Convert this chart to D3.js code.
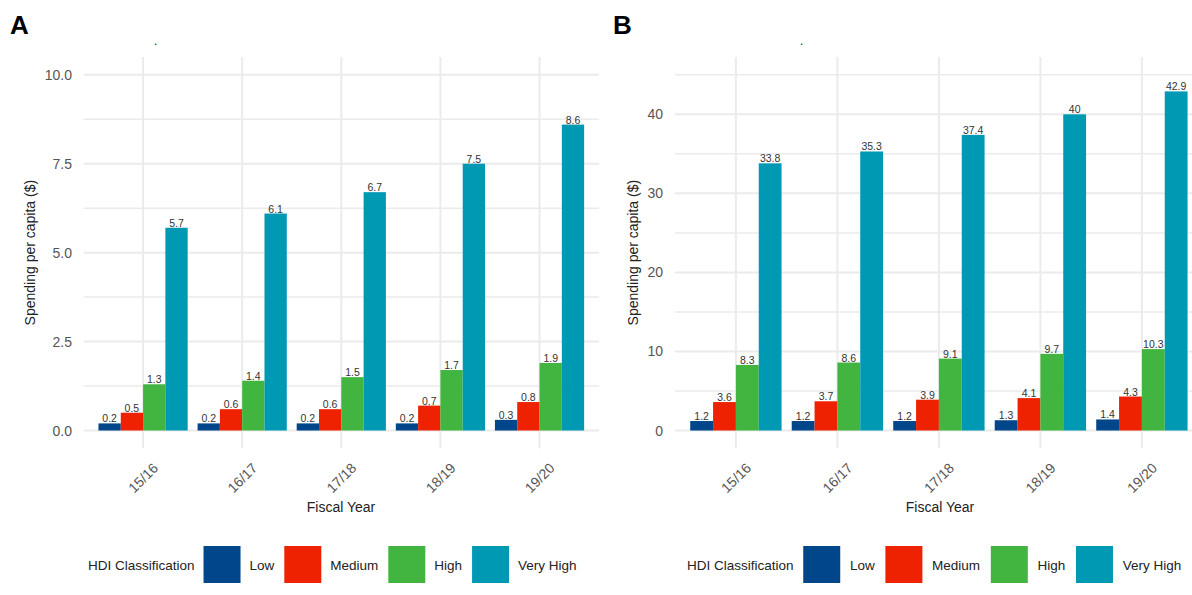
<!DOCTYPE html>
<html>
<head>
<meta charset="utf-8">
<script src="https://cdn.jsdelivr.net/npm/d3@7"></script>
<style>
  html, body { margin: 0; padding: 0; background: #fff; }
  svg { display: block; font-family: "Liberation Sans", Arial, sans-serif; }
</style>
</head>
<body>
<svg id="chart" width="1192" height="595"></svg>
<script>
// ---------- data ----------
const years = ["15/16", "16/17", "17/18", "18/19", "19/20"];
const classes = ["Low", "Medium", "High", "Very High"];
const classColors = ["#00468B", "#EE2200", "#42B540", "#0099B4"];

// Panel A: spending per capita ($)
const aLow = [0.2, 0.2, 0.2, 0.2, 0.3];
const aMedium = [0.5, 0.6, 0.6, 0.7, 0.8];
const aHigh = [1.3, 1.4, 1.5, 1.7, 1.9];
const aVeryHigh = [5.7, 6.1, 6.7, 7.5, 8.6];
const aTicks = [0, 2.5, 5, 7.5, 10];
const aMinorTicks = [1.25, 3.75, 6.25, 8.75];

// Panel B: spending per capita ($)
const bLow = [1.2, 1.2, 1.2, 1.3, 1.4];
const bMedium = [3.6, 3.7, 3.9, 4.1, 4.3];
const bHigh = [8.3, 8.6, 9.1, 9.7, 10.3];
const bVeryHigh = [33.8, 35.3, 37.4, 40, 42.9];
const bTicks = [0, 10, 20, 30, 40];
const bMinorTicks = [5, 15, 25, 35, 45];

const yTitle = "Spending per capita ($)";
const xTitle = "Fiscal Year";
const legendTitle = "HDI Classification";

// ---------- drawing ----------
const svg = d3.select("#chart");

function drawPanel(cfg) {
  const g = svg.append("g");
  const series = cfg.series;
  const x = d3.scaleBand().domain(years).range([cfg.left, cfg.right])
    .paddingInner(0).paddingOuter(0.1);
  const step = x.step();
  const xi = d3.scaleBand().domain(classes).range([-0.45 * step, 0.45 * step]).padding(0);
  const y = d3.scaleLinear().domain(cfg.yDomain).range([cfg.bottom, cfg.top]);
  const xc = d => x(d) + x.bandwidth() / 2;

  // gridlines
  g.selectAll("line.minor").data(cfg.minor).join("line")
    .attr("x1", cfg.left).attr("x2", cfg.right)
    .attr("y1", d => y(d)).attr("y2", d => y(d))
    .attr("stroke", "#EBEBEB").attr("stroke-width", 1.5);
  g.selectAll("line.major").data(cfg.ticks).join("line")
    .attr("x1", cfg.left).attr("x2", cfg.right)
    .attr("y1", d => y(d)).attr("y2", d => y(d))
    .attr("stroke", "#EBEBEB").attr("stroke-width", 2);
  g.selectAll("line.vmajor").data(years).join("line")
    .attr("x1", d => xc(d)).attr("x2", d => xc(d))
    .attr("y1", cfg.top).attr("y2", cfg.bottom)
    .attr("stroke", "#EBEBEB").attr("stroke-width", 2);

  // bars
  const flat = [];
  classes.forEach((c, ci) => {
    years.forEach((yr, yi) => flat.push({ c, ci, yr, v: series[ci][yi] }));
  });
  g.selectAll("rect.bar").data(flat).join("rect")
    .attr("x", d => xc(d.yr) + xi(d.c))
    .attr("width", xi.bandwidth())
    .attr("y", d => y(d.v))
    .attr("height", d => y(0) - y(d.v))
    .attr("fill", d => classColors[d.ci]);

  // value labels
  g.selectAll("text.val").data(flat).join("text")
    .attr("x", d => xc(d.yr) + xi(d.c) + xi.bandwidth() / 2)
    .attr("y", d => y(d.v) - 1)
    .attr("text-anchor", "middle")
    .attr("font-size", cfg.valueFont)
    .attr("fill", "#333")
    .text(d => d.v);

  // y tick labels
  g.selectAll("text.ytick").data(cfg.ticks).join("text")
    .attr("x", cfg.yLabelX)
    .attr("y", d => y(d) + 5)
    .attr("text-anchor", "end")
    .attr("font-size", 14)
    .attr("fill", "#555")
    .text(d => cfg.fmt(d));

  // x tick labels
  g.selectAll("text.xtick").data(years).join("text")
    .attr("text-anchor", "end")
    .attr("font-size", 14)
    .attr("fill", "#555")
    .attr("transform", d => `translate(${xc(d) + 16},${469}) rotate(-45)`)
    .text(d => d);

  // axis titles
  g.append("text")
    .attr("transform", `translate(${cfg.yTitleX},${(cfg.top + cfg.bottom) / 2}) rotate(-90)`)
    .attr("text-anchor", "middle")
    .attr("font-size", 14)
    .attr("fill", "#222")
    .text(yTitle);
  g.append("text")
    .attr("x", (cfg.left + Math.min(cfg.right, cfg.left + 5.2 * step)) / 2)
    .attr("x", cfg.xTitleX)
    .attr("y", 512)
    .attr("text-anchor", "middle")
    .attr("font-size", 14)
    .attr("fill", "#222")
    .text(xTitle);

  // panel tag and tiny title
  g.append("text")
    .attr("x", cfg.tagX).attr("y", 34)
    .attr("font-size", 26).attr("font-weight", "bold")
    .attr("fill", "#000")
    .text(cfg.tag);
  g.append("text")
    .attr("x", cfg.dotX).attr("y", 45)
    .attr("font-size", 12).attr("fill", "#222")
    .text(".");

  // legend
  const lg = g.append("g");
  let cx = cfg.legendX;
  const ly = 564.5;
  const lt = lg.append("text")
    .attr("x", cx).attr("y", ly + 5)
    .attr("font-size", 13.5).attr("fill", "#222")
    .text(legendTitle);
  cx += lt.node().getComputedTextLength() + cfg.legendGap;
  classes.forEach((c, ci) => {
    lg.append("rect")
      .attr("x", cx).attr("y", ly - 18.5)
      .attr("width", 37).attr("height", 37)
      .attr("fill", classColors[ci]);
    cx += 37 + cfg.legendGap;
    const t = lg.append("text")
      .attr("x", cx).attr("y", ly + 5)
      .attr("font-size", 13.5).attr("fill", "#222")
      .text(c);
    cx += t.node().getComputedTextLength() + cfg.legendGap + 1;
  });
}

drawPanel({
  series: [aLow, aMedium, aHigh, aVeryHigh],
  ticks: aTicks, minor: aMinorTicks,
  yDomain: [-0.5, 10.5],
  left: 83.6, right: 599, top: 57, bottom: 448.3,
  fmt: d3.format(".1f"),
  yLabelX: 72, yTitleX: 35, xTitleX: 341,
  valueFont: 10.5,
  tag: "A", tagX: 10, dotX: 154,
  legendX: 88, legendGap: 9
});

drawPanel({
  series: [bLow, bMedium, bHigh, bVeryHigh],
  ticks: bTicks, minor: bMinorTicks,
  yDomain: [-2.25, 47.25],
  left: 675, right: 1202.8, top: 57, bottom: 448.3,
  fmt: d3.format("d"),
  yLabelX: 663, yTitleX: 638, xTitleX: 940,
  valueFont: 10.5,
  tag: "B", tagX: 613, dotX: 800,
  legendX: 687, legendGap: 9.7
});
</script>
</body>
</html>
